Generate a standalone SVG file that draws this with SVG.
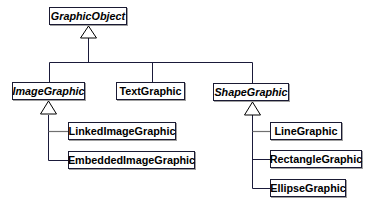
<svg xmlns="http://www.w3.org/2000/svg" width="370" height="203" viewBox="0 0 370 203">
<style>
.box{fill:#fff;stroke:#1a1a33;stroke-width:1}
.sh{fill:#a0a0a0}
.t{font-family:"Liberation Sans",Arial,sans-serif;font-weight:bold;font-size:10.8px;fill:#000;text-anchor:middle}
.it{font-style:italic}
.ln{fill:none;stroke:#1a1a3a;stroke-width:1}
.lg{fill:none;stroke:#707070;stroke-width:1.2}
.tri{fill:#fff;stroke:#000;stroke-width:1}
</style>
<rect width="370" height="203" fill="#fff"/>
<g id="connectors">
<path class="ln" d="M88.5 38V62.5M49.5 62.5H252.5M49.5 62.5V82M152.5 62.5V82M252.5 62.5V83"/>
<path class="ln" d="M48.5 115V160.5H68"/>
<path class="lg" d="M48.5 131.5H68"/>
<path class="ln" d="M252.5 115V188.5H270"/>
<path class="lg" d="M252.5 131.5H270"/>
<path class="ln" d="M252.5 159.5H270"/>
<polygon class="tri" points="88.5,26 80.5,38 96.5,38"/>
<polygon class="tri" points="48.5,101 40.5,114 56.5,114"/>
<polygon class="tri" points="252.5,102 244.5,115 260.5,115"/>
</g>
<g id="GraphicObject"><rect class="sh" x="50" y="8" width="78" height="18"/><rect class="box" x="49.5" y="7.5" width="77" height="17"/><text class="t it" x="88" y="20">GraphicObject</text></g>
<g id="ImageGraphic"><rect class="sh" x="13" y="83" width="73" height="18"/><rect class="box" x="12.5" y="82.5" width="72" height="17"/><text class="t it" x="48.5" y="95">ImageGraphic</text></g>
<g id="TextGraphic"><rect class="sh" x="117" y="83" width="69" height="18"/><rect class="box" x="116.5" y="82.5" width="68" height="17"/><text class="t" x="150.5" y="95">TextGraphic</text></g>
<g id="ShapeGraphic"><rect class="sh" x="214" y="84" width="76" height="18"/><rect class="box" x="213.5" y="83.5" width="75" height="17"/><text class="t it" x="251" y="96">ShapeGraphic</text></g>
<g id="LinkedImageGraphic"><rect class="sh" x="69" y="123" width="108" height="18"/><rect class="box" x="68.5" y="122.5" width="107" height="17"/><text class="t" x="122" y="135">LinkedImageGraphic</text></g>
<g id="EmbeddedImageGraphic"><rect class="sh" x="69" y="152" width="127" height="18"/><rect class="box" x="68.5" y="151.5" width="126" height="17"/><text class="t" x="131.5" y="164">EmbeddedImageGraphic</text></g>
<g id="LineGraphic"><rect class="sh" x="271" y="123" width="72" height="18"/><rect class="box" x="270.5" y="122.5" width="71" height="17"/><text class="t" x="306" y="135">LineGraphic</text></g>
<g id="RectangleGraphic"><rect class="sh" x="271" y="151" width="92" height="18"/><rect class="box" x="270.5" y="150.5" width="91" height="17"/><text class="t" x="316" y="163">RectangleGraphic</text></g>
<g id="EllipseGraphic"><rect class="sh" x="271" y="180" width="76" height="18"/><rect class="box" x="270.5" y="179.5" width="75" height="17"/><text class="t" x="308" y="192">EllipseGraphic</text></g>
</svg>
